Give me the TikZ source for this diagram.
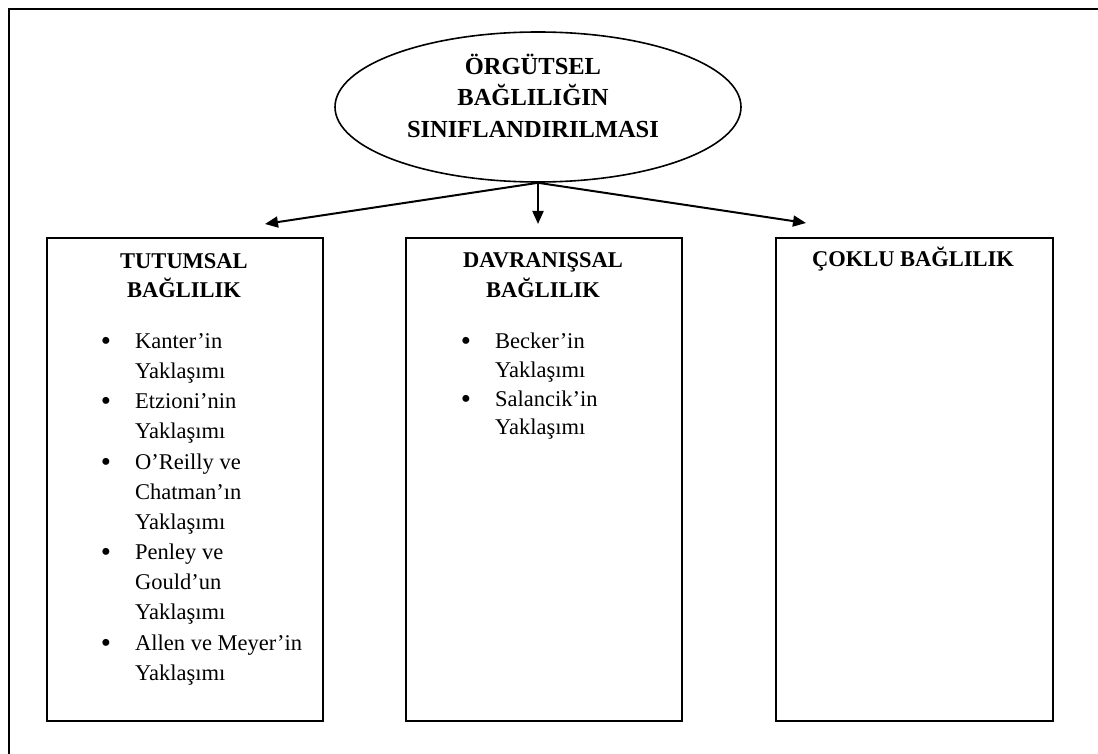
\documentclass[tikz,border=0pt]{standalone}
\usepackage{fontspec}
\setmainfont{Liberation Serif}
\usetikzlibrary{arrows.meta,shapes.geometric}
\begin{document}
\begin{tikzpicture}[x=1pt,y=-1pt,
  frame/.style={line width=2pt},
  box/.style={draw,line width=2.2pt,anchor=north west,inner sep=0pt},
  title/.style={font=\fontsize{24.5}{31.5}\selectfont\bfseries,anchor=base,inner sep=0pt},
  head/.style={font=\fontsize{22.5}{30}\selectfont\bfseries,anchor=base,inner sep=0pt},
  itm/.style={font=\fontsize{22.5}{30}\selectfont,anchor=base west,inner sep=0pt},
  bul/.style={font=\fontsize{29}{30}\selectfont,anchor=base,inner sep=0pt,yshift=-2pt},
  arr/.style={-{Triangle[length=13pt,width=11pt]},line width=2pt}]
\useasboundingbox (0,0) rectangle (1098,754);
% outer frame (only top and left edges visible)
\coordinate (fb) at (9,754);
\coordinate (fc) at (9,9);
\coordinate (fr) at (1098,9);
\draw[frame] (fb) -- (fc) -- (fr);
% root ellipse
\node[draw,ellipse,line width=1.6pt,minimum width=406pt,minimum height=150pt,inner sep=0pt] (root) at (538,107) {};
\node[title] (r1) at (533,75) {ÖRGÜTSEL};
\node[title] (r2) at (533,106) {BAĞLILIĞIN};
\node[title] (r3) at (533,138) {SINIFLANDIRILMASI};
% boxes
\node[box,minimum width=276pt,minimum height=483pt] (b1) at (46,237) {};
\node[box,minimum width=276pt,minimum height=483pt] (b2) at (405,237) {};
\node[box,minimum width=277pt,minimum height=483pt] (b3) at (775,237) {};
% arrows
\coordinate (t1) at (265,224);
\coordinate (t2) at (538,224);
\coordinate (t3) at (806,223);
\draw[arr] (root.south) -- (t1);
\draw[arr] (root.south) -- (t2);
\draw[arr] (root.south) -- (t3);
% headings
\node[head] (h1a) at (184,269) {TUTUMSAL};
\node[head] (h1b) at (184,298) {BAĞLILIK};
\node[head] (h2a) at (543,268) {DAVRANIŞSAL};
\node[head] (h2b) at (543,298) {BAĞLILIK};
\node[head] (h3a) at (913,266) {ÇOKLU BAĞLILIK};
% left box items
\node[bul] (p1) at (106,348) {•};
\node[itm] (l1) at (135,348) {Kanter’in};
\node[itm] (l2) at (135,378) {Yaklaşımı};
\node[bul] (p2) at (106,408) {•};
\node[itm] (l3) at (135,408) {Etzioni’nin};
\node[itm] (l4) at (135,438) {Yaklaşımı};
\node[bul] (p3) at (106,469) {•};
\node[itm] (l5) at (135,469) {O’Reilly ve};
\node[itm] (l6) at (135,499) {Chatman’ın};
\node[itm] (l7) at (135,529) {Yaklaşımı};
\node[bul] (p4) at (106,559) {•};
\node[itm] (l8) at (135,559) {Penley ve};
\node[itm] (l9) at (135,589) {Gould’un};
\node[itm] (l10) at (135,619) {Yaklaşımı};
\node[bul] (p5) at (106,650) {•};
\node[itm] (l11) at (135,650) {Allen ve Meyer’in};
\node[itm] (l12) at (135,680) {Yaklaşımı};
% middle box items
\node[bul] (q1) at (466,348) {•};
\node[itm] (m1) at (495,348) {Becker’in};
\node[itm] (m2) at (495,377) {Yaklaşımı};
\node[bul] (q2) at (466,406) {•};
\node[itm] (m3) at (495,406) {Salancik’in};
\node[itm] (m4) at (495,434) {Yaklaşımı};
\end{tikzpicture}
\end{document}
